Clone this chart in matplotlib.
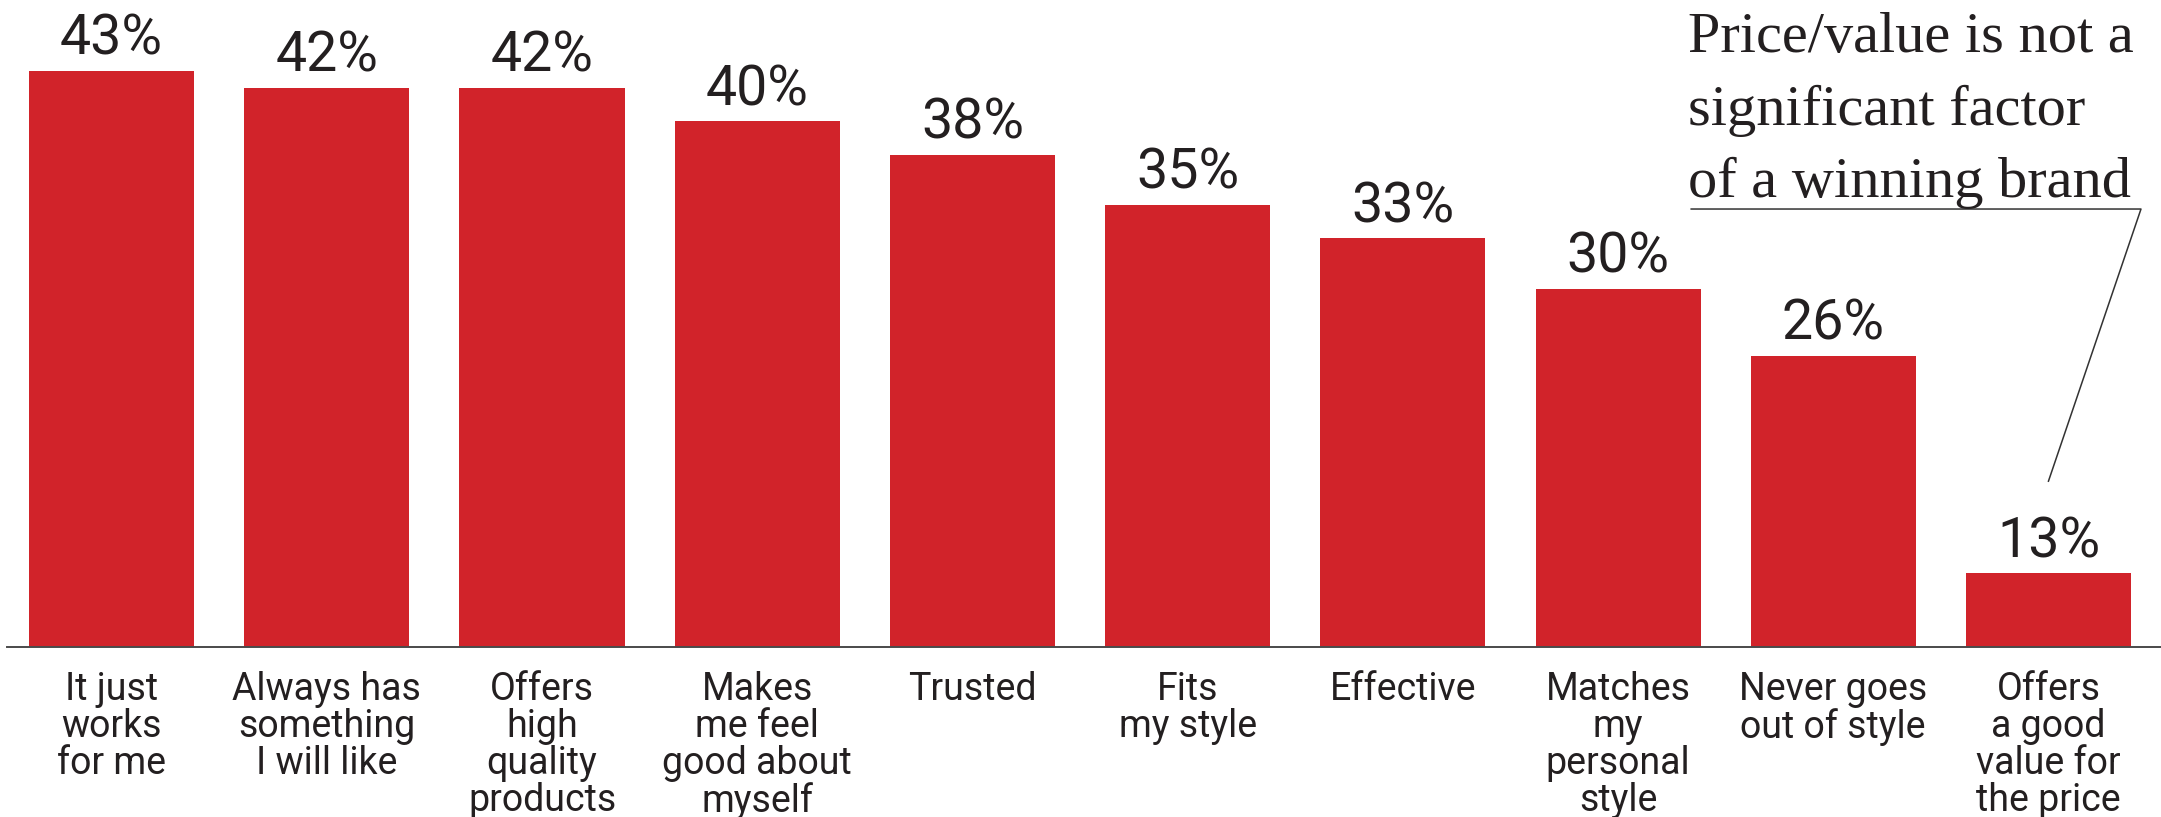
import matplotlib
matplotlib.use("Agg")
import matplotlib.pyplot as plt

# Share of respondents naming each attribute of a winning brand
CATEGORIES = [
    "It just\nworks\nfor me",
    "Always has\nsomething\nI will like",
    "Offers\nhigh\nquality\nproducts",
    "Makes\nme feel\ngood about\nmyself",
    "Trusted",
    "Fits\nmy style",
    "Effective",
    "Matches\nmy\npersonal\nstyle",
    "Never goes\nout of style",
    "Offers\na good\nvalue for\nthe price",
]
SHARES = [43, 42, 42, 40, 38, 35, 33, 30, 26, 13]
CALLOUT = "Price/value is not a\nsignificant factor\nof a winning brand"

RED = "#d1232a"
INK = "#231f20"
SANS = ["Roboto", "DejaVu Sans"]
SERIF = ["Liberation Serif", "DejaVu Serif"]

W, H = 2161, 817
fig = plt.figure(figsize=(W / 100, H / 100), dpi=100)
ax = fig.add_axes([7 / W, 170 / H, (W - 7) / W, 647 / H])

xs = list(range(len(SHARES)))
ax.bar(xs, SHARES, width=0.767, color=RED, zorder=2)
ax.set_xlim(-0.486, 9.523)
ax.set_ylim(8.6, 47.23)

for side in ("top", "left", "right"):
    ax.spines[side].set_visible(False)
ax.spines["bottom"].set_color("#4a4a4a")
ax.spines["bottom"].set_linewidth(1.4)
ax.spines["bottom"].set_zorder(3)
ax.set_xticks([])
ax.set_yticks([])

for i, (label, v) in enumerate(zip(CATEGORIES, SHARES)):
    ax.annotate(f"{v}%", xy=(i, v), xytext=(0, 11.5), textcoords="offset points",
                ha="center", va="baseline", fontsize=40, family=SANS, color=INK)
    ax.annotate(label, xy=(i, 0), xycoords=("data", "axes fraction"),
                xytext=(0, -17), textcoords="offset points",
                ha="center", va="top", fontsize=27, linespacing=1.0,
                family=SANS, color=INK, annotation_clip=False)

# callout text and its leader down to the last bar
fig.text(1688 / W, 1 - 12 / H, CALLOUT, ha="left", va="top", fontsize=42,
         linespacing=1.51, family=SERIF, color=INK)
last = len(SHARES) - 1
ax.plot([last - 1.66, last + 0.43, last], [34.75, 34.75, SHARES[last] + 5.5],
        color="#333333", linewidth=1.1, clip_on=False, zorder=4)

fig.savefig("out.png", dpi=100)
